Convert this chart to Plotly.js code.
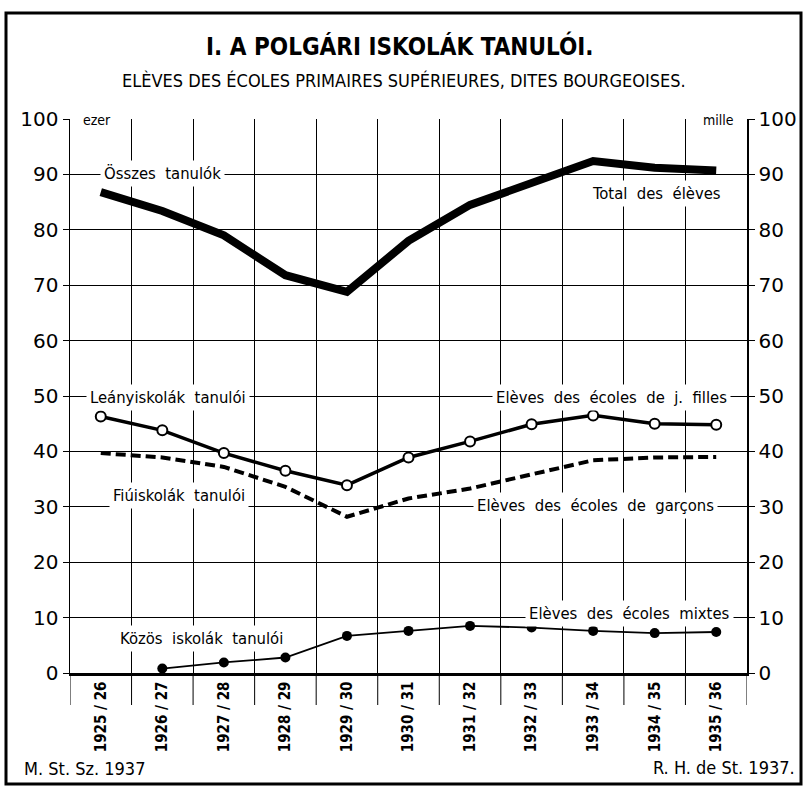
<!DOCTYPE html>
<html>
<head>
<meta charset="utf-8">
<script src="https://cdn.plot.ly/plotly-3.0.1.min.js"></script>
<style>html,body{margin:0;padding:0;background:#fff;}#chart{width:806px;height:786px;}</style>
</head>
<body>
<div id="chart"></div>
<script>
// ---- data (thousands of pupils) ----
const categories = ['1925 / 26','1926 / 27','1927 / 28','1928 / 29','1929 / 30','1930 / 31','1931 / 32','1932 / 33','1933 / 34','1934 / 35','1935 / 36'];
const totalPupils = [86.8, 83.4, 79.0, 71.8, 68.8, 78.0, 84.5, 88.4, 92.4, 91.2, 90.7];
const girlsPupils = [46.3, 43.8, 39.7, 36.5, 33.9, 38.9, 41.8, 44.9, 46.5, 45.0, 44.8];
const boysPupils  = [39.7, 38.9, 37.2, 33.6, 28.2, 31.5, 33.3, 35.8, 38.4, 38.9, 39.0];
const mixedPupils = [null, 0.8, 1.9, 2.8, 6.7, 7.6, 8.5, 8.2, 7.6, 7.2, 7.4];
const yTicks = [0,10,20,30,40,50,60,70,80,90,100];
const yTickText = ['0','10','20','30','40','50','60','70','80','90','100'];

// ---- geometry helpers (layout only) ----
const W = 806, H = 786, L = 70, R = 747, T = 119, B = 673;
const px = v => (v - L) / (R - L);
const py = v => (B - v) / (B - T);

const narrow = '"Liberation Sans Narrow", "DejaVu Sans Condensed", "Roboto Condensed", "Arial Narrow", "DejaVu Sans", sans-serif';
const numFont = '"DejaVu Sans", Lato, sans-serif';

const traces = [
  {x: categories, y: totalPupils, type: 'scatter', mode: 'lines',
   line: {color: '#000', width: 8}, hoverinfo: 'skip'},
  {x: categories, y: boysPupils, type: 'scatter', mode: 'lines',
   line: {color: '#000', width: 4, dash: '10px,5px'}, hoverinfo: 'skip'},
  {x: categories, y: girlsPupils, type: 'scatter', mode: 'lines+markers',
   line: {color: '#000', width: 3.5},
   marker: {symbol: 'circle', size: 10, color: '#fff', line: {color: '#000', width: 2}}, hoverinfo: 'skip'},
  {x: categories, y: mixedPupils, type: 'scatter', mode: 'lines+markers', connectgaps: false,
   line: {color: '#000', width: 1.8},
   marker: {symbol: 'circle', size: 10, color: '#000'}, yaxis: 'y2', hoverinfo: 'skip'}
];

function lab(text, x, y, xanchor, size) {
  return {text: text, xref: 'paper', yref: 'paper', x: px(x), y: py(y), xanchor: xanchor, yanchor: 'middle',
    showarrow: false, bgcolor: '#fff', borderpad: 3,
    font: {family: narrow, size: size || 16.5, color: '#000'}};
}

const annotations = [
  {text: 'I. A POLGÁRI ISKOLÁK TANULÓI.', xref: 'paper', yref: 'paper', x: px(399), y: py(46),
   xanchor: 'center', yanchor: 'middle', showarrow: false,
   font: {family: narrow, size: 24, color: '#000', weight: 'bold'}},
  {text: 'ELÈVES DES ÉCOLES PRIMAIRES SUPÉRIEURES, DITES BOURGEOISES.', xref: 'paper', yref: 'paper', x: px(404), y: py(80),
   xanchor: 'center', yanchor: 'middle', showarrow: false,
   font: {family: narrow, size: 18, color: '#000'}},
  lab('ezer', 79, 120, 'left', 14),
  lab('mille', 738, 120, 'right', 14),
  lab('Összes  tanulók', 100, 174, 'left'),
  lab('Total  des  élèves', 725, 193, 'right'),
  lab('Leányiskolák  tanulói', 86, 397, 'left'),
  lab('Elèves  des  écoles  de  j.  filles', 731, 397, 'right'),
  lab('Fiúiskolák  tanulói', 109, 495, 'left'),
  lab('Elèves  des  écoles  de  garçons', 718, 506, 'right'),
  lab('Elèves  des  écoles  mixtes', 734, 613, 'right'),
  lab('Közös  iskolák  tanulói', 116, 638, 'left'),
  {text: 'M. St. Sz. 1937', xref: 'paper', yref: 'paper', x: px(22), y: py(768), xanchor: 'left', yanchor: 'middle',
   showarrow: false, font: {family: narrow, size: 18, color: '#000'}},
  {text: 'R. H. de St. 1937.', xref: 'paper', yref: 'paper', x: px(797), y: py(767), xanchor: 'right', yanchor: 'middle',
   showarrow: false, font: {family: narrow, size: 18, color: '#000'}}
];

const shapes = [
  {type: 'rect', xref: 'paper', yref: 'paper', x0: px(6), x1: px(801), y0: py(784), y1: py(13),
   line: {color: '#000', width: 3}, layer: 'below'}
];
for (let k = 0; k <= categories.length; k++) {
  shapes.push({type: 'line', xref: 'x', yref: 'paper', x0: k - 0.5, x1: k - 0.5, y0: 0, y1: py(705),
    line: {color: '#000', width: 1}});
}

const layout = {
  width: W, height: H,
  margin: {l: L, r: W - R, t: T, b: H - B, pad: 0},
  paper_bgcolor: '#fff', plot_bgcolor: '#fff',
  showlegend: false,
  xaxis: {type: 'category', range: [-0.5, categories.length - 0.5], tickson: 'boundaries',
    showgrid: true, gridcolor: '#000', gridwidth: 1,
    ticks: '', tickangle: -90, showline: true, linecolor: '#000', linewidth: 2.5,
    tickfont: {family: narrow, size: 15, color: '#000', weight: 'bold'}, fixedrange: true},
  yaxis: {range: [0, 100], tickvals: yTicks, ticktext: yTickText, showgrid: true, gridcolor: '#000', gridwidth: 1,
    zeroline: false, ticks: 'outside', ticklen: 6, tickcolor: '#000', tickwidth: 1,
    showline: true, linecolor: '#000', linewidth: 1.5,
    tickfont: {family: numFont, size: 20, color: '#000'}, fixedrange: true},
  yaxis2: {range: [0, 100], tickvals: yTicks, ticktext: yTickText, overlaying: 'y', side: 'right',
    showgrid: false, zeroline: false, ticks: 'outside', ticklen: 6, tickcolor: '#000', tickwidth: 1,
    showline: true, linecolor: '#000', linewidth: 1.5,
    tickfont: {family: numFont, size: 20, color: '#000'}, fixedrange: true},
  annotations: annotations,
  shapes: shapes
};

Plotly.newPlot('chart', traces, layout, {displayModeBar: false, staticPlot: true});
</script>
</body>
</html>
